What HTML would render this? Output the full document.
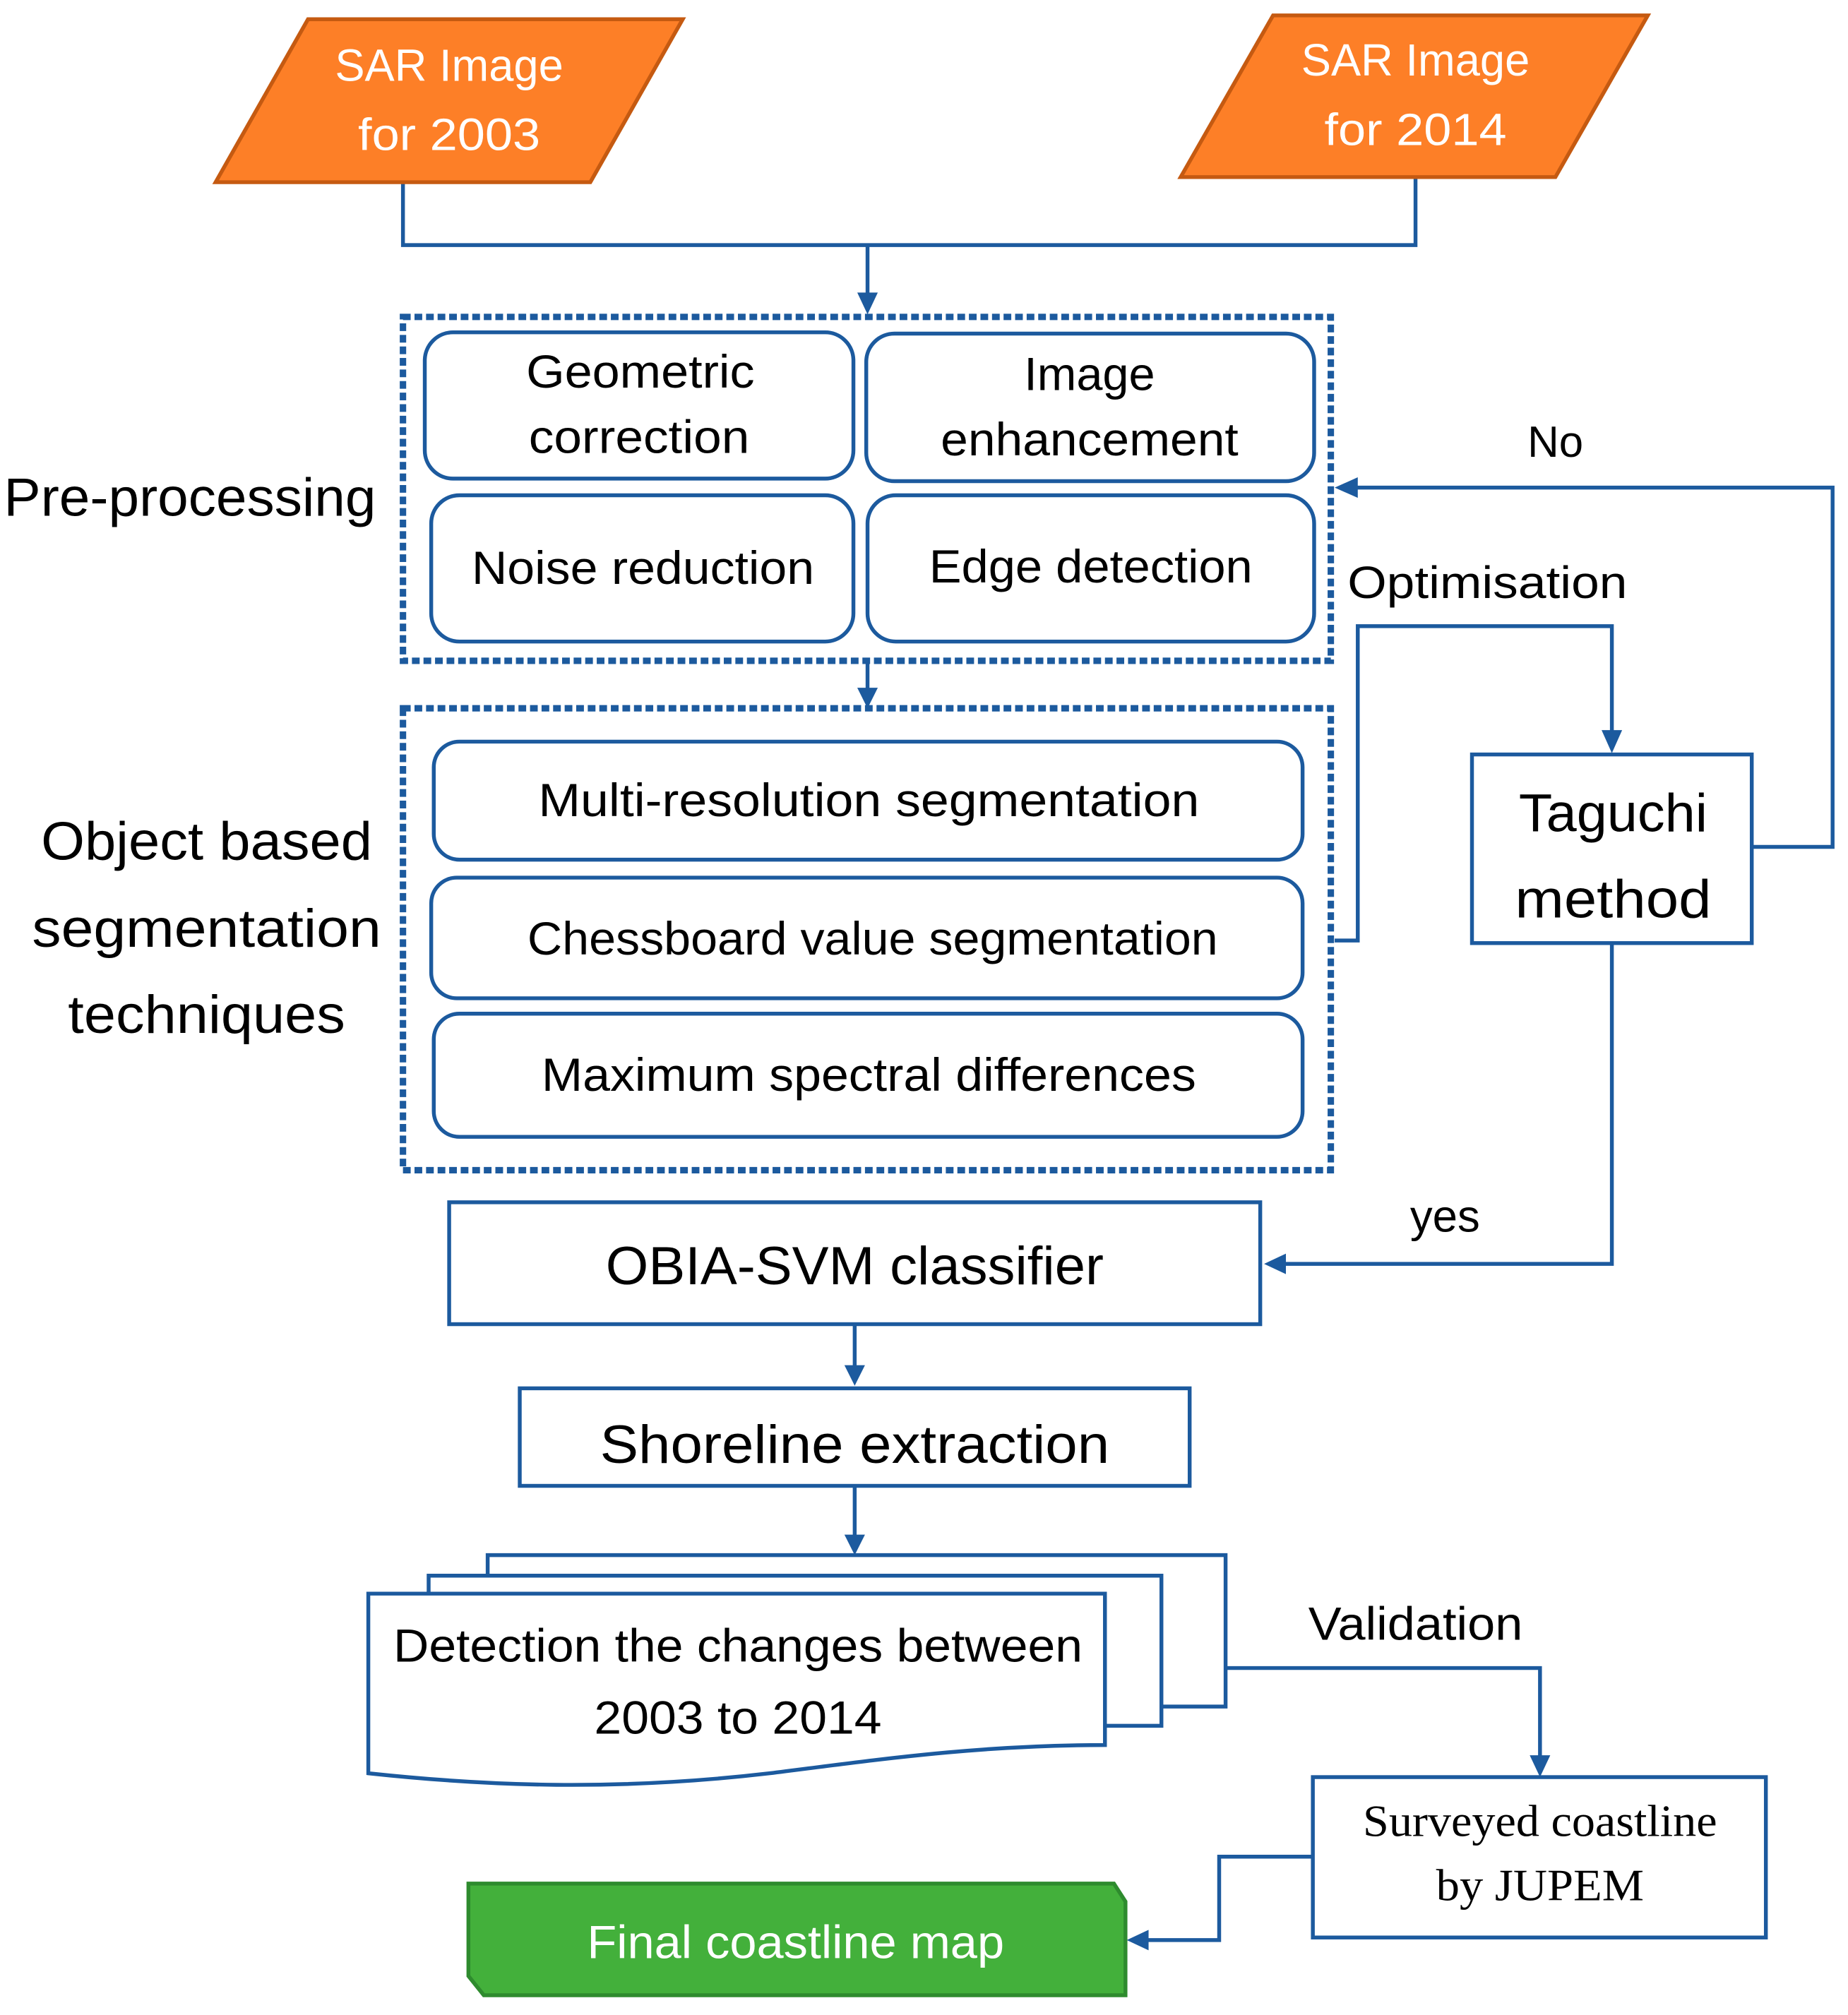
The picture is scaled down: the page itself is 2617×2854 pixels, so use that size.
<!DOCTYPE html>
<html><head><meta charset="utf-8"><style>html,body{margin:0;padding:0;background:#fff}svg{display:block}</style></head>
<body>
<svg width="2617" height="2854" viewBox="0 0 1440 1570.4" preserveAspectRatio="none" xmlns="http://www.w3.org/2000/svg" font-family="Liberation Sans, sans-serif">
<g fill="none" stroke="#1c5a9e" stroke-width="3">
<polyline points="314,142 314,191 1103,191 1103,138"/>
<line x1="676" y1="191" x2="676" y2="230"/>
<line x1="676" y1="515" x2="676" y2="538"/>
<line x1="666" y1="1032" x2="666" y2="1065"/>
<line x1="666" y1="1158" x2="666" y2="1197"/>
<polyline points="955,1300 1200,1300 1200,1370"/>
<polyline points="1023,1447 950,1447 950,1512 893,1512"/>
<polyline points="1365,660 1428,660 1428,380 1055,380"/>
<polyline points="1040,733 1058,733 1058,488 1256,488 1256,570"/>
<polyline points="1256,735 1256,985 1000,985"/>
</g>
<g fill="#1c5a9e">
<polygon points="668,228 684,228 676,245"/>
<polygon points="668,536 684,536 676,552"/>
<polygon points="658,1064 674,1064 666,1080"/>
<polygon points="658,1196 674,1196 666,1212"/>
<polygon points="1192,1368 1208,1368 1200,1385"/>
<polygon points="895,1504 895,1520 878,1512"/>
<polygon points="1058,372 1058,388 1040,380"/>
<polygon points="1248,569 1264,569 1256,587"/>
<polygon points="1002,977 1002,993 985,985"/>
</g>
<polygon points="168,142 240,15 532,15 460,142" fill="#fd7f27" stroke="#c55a11" stroke-width="3"/>
<polygon points="920,138 992,12 1284,12 1212,138" fill="#fd7f27" stroke="#c55a11" stroke-width="3"/>
<g fill="#fff" font-size="35" text-anchor="middle" lengthAdjust="spacingAndGlyphs">
<text x="350" y="63" textLength="178" lengthAdjust="spacingAndGlyphs">SAR Image</text><text x="350" y="117" textLength="142" lengthAdjust="spacingAndGlyphs">for 2003</text>
<text x="1103" y="59" textLength="178" lengthAdjust="spacingAndGlyphs">SAR Image</text><text x="1103" y="113" textLength="142" lengthAdjust="spacingAndGlyphs">for 2014</text>
</g>
<g fill="none" stroke="#1c5a9e" stroke-width="5" stroke-dasharray="6,3">
<rect x="314" y="247" width="723" height="268"/>
<rect x="314" y="552" width="723" height="360"/>
</g>
<g fill="#fff" stroke="#1c5a9e" stroke-width="3">
<rect x="331" y="259" width="334" height="114" rx="22"/>
<rect x="675" y="260" width="349" height="115" rx="22"/>
<rect x="336" y="386" width="329" height="114" rx="22"/>
<rect x="676" y="386" width="348" height="114" rx="22"/>
<rect x="338" y="578" width="677" height="92" rx="20"/>
<rect x="336" y="684" width="679" height="94" rx="20"/>
<rect x="338" y="790" width="677" height="96" rx="20"/>
<rect x="350" y="937" width="632" height="95"/>
<rect x="405" y="1082" width="522" height="76"/>
<rect x="1147" y="588" width="218" height="147"/>
<rect x="1023" y="1385" width="353" height="125"/>
<polygon points="380,1212 955,1212 955,1330 380,1330"/>
<polygon points="334,1228 905,1228 905,1345 334,1345"/>
<path d="M287,1242 L861,1242 L861,1360 C760,1360 680,1372 600,1382 C480,1396 380,1392 287,1382 Z"/>
</g>
<polygon points="365,1468 868,1468 877,1482 877,1555 377,1555 365,1540" fill="#43b03b" stroke="#2e8b2e" stroke-width="3"/>
<g fill="#000" font-size="36" text-anchor="middle">
<text x="499" y="302" textLength="178" lengthAdjust="spacingAndGlyphs">Geometric</text><text x="498" y="353" textLength="172" lengthAdjust="spacingAndGlyphs">correction</text>
<text x="849" y="304" textLength="102" lengthAdjust="spacingAndGlyphs">Image</text><text x="849" y="355" textLength="232" lengthAdjust="spacingAndGlyphs">enhancement</text>
<text x="501" y="455" textLength="267" lengthAdjust="spacingAndGlyphs">Noise reduction</text>
<text x="850" y="454" textLength="252" lengthAdjust="spacingAndGlyphs">Edge detection</text>
<text x="677" y="636" textLength="515" lengthAdjust="spacingAndGlyphs">Multi-resolution segmentation</text>
<text x="680" y="744" textLength="538" lengthAdjust="spacingAndGlyphs">Chessboard value segmentation</text>
<text x="677" y="850" textLength="510" lengthAdjust="spacingAndGlyphs">Maximum spectral differences</text>
<text x="666" y="1001" font-size="42" textLength="388" lengthAdjust="spacingAndGlyphs">OBIA-SVM classifier</text>
<text x="666" y="1140" font-size="42" textLength="397" lengthAdjust="spacingAndGlyphs">Shoreline extraction</text>
<text x="1257" y="648" font-size="42" textLength="147" lengthAdjust="spacingAndGlyphs">Taguchi</text>
<text x="1257" y="715" font-size="42" textLength="153" lengthAdjust="spacingAndGlyphs">method</text>
<text x="575" y="1295" font-size="36" textLength="537" lengthAdjust="spacingAndGlyphs">Detection the changes between</text>
<text x="575" y="1351" font-size="36" textLength="224" lengthAdjust="spacingAndGlyphs">2003 to 2014</text>
<text x="1200" y="1431" font-family="Liberation Serif, serif" font-size="35" textLength="276" lengthAdjust="spacingAndGlyphs">Surveyed coastline</text>
<text x="1200" y="1481" font-family="Liberation Serif, serif" font-size="35" textLength="162" lengthAdjust="spacingAndGlyphs">by JUPEM</text>
<text x="620" y="1526" font-size="36" fill="#fff" textLength="325" lengthAdjust="spacingAndGlyphs">Final coastline map</text>
<text x="148" y="402" font-size="42" textLength="290" lengthAdjust="spacingAndGlyphs">Pre-processing</text>
<text x="161" y="670" font-size="42" textLength="258" lengthAdjust="spacingAndGlyphs">Object based</text>
<text x="161" y="738" font-size="42" textLength="272" lengthAdjust="spacingAndGlyphs">segmentation</text>
<text x="161" y="805" font-size="42" textLength="216" lengthAdjust="spacingAndGlyphs">techniques</text>
<text x="1212" y="356" font-size="34">No</text>
<text x="1159" y="466" font-size="35" textLength="218" lengthAdjust="spacingAndGlyphs">Optimisation</text>
<text x="1126" y="960" font-size="35">yes</text>
<text x="1103" y="1278" font-size="36" textLength="167" lengthAdjust="spacingAndGlyphs">Validation</text>
</g>
</svg>
</body></html>
